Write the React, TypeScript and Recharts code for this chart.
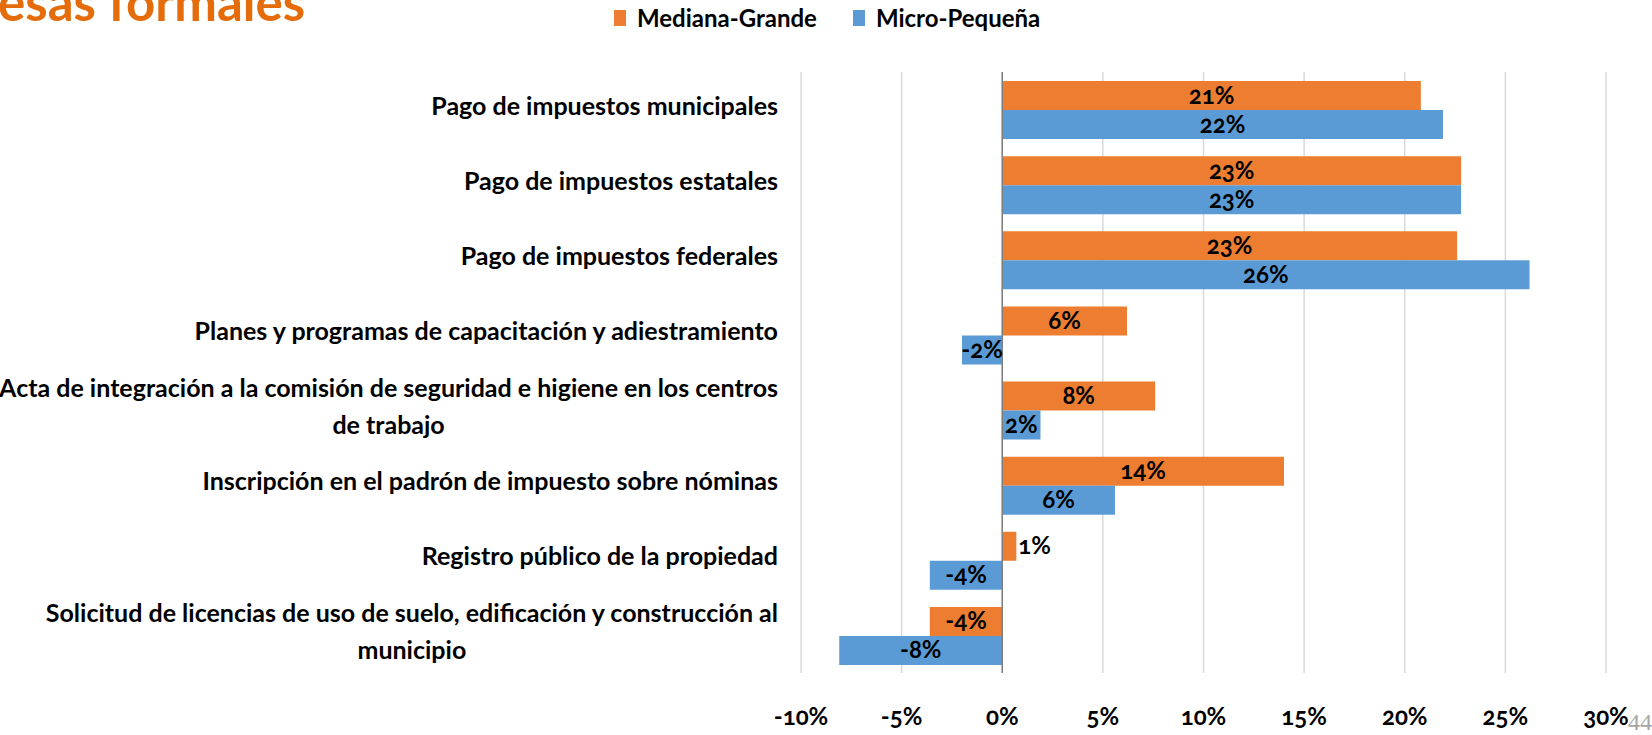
import { useLayoutEffect, useRef, useState } from "react";
import {
  Bar,
  BarChart,
  CartesianGrid,
  LabelList,
  ReferenceLine,
  XAxis,
  YAxis,
} from "recharts";

const categories = [
  "Pago de impuestos municipales",
  "Pago de impuestos estatales",
  "Pago de impuestos federales",
  "Planes y programas de capacitación y adiestramiento",
  "Acta de integración a la comisión de seguridad e higiene en los centros\nde trabajo",
  "Inscripción en el padrón de impuesto sobre nóminas",
  "Registro público de la propiedad",
  "Solicitud de licencias de uso de suelo, edificación y construcción al\nmunicipio",
];

const seriesNames = ["Mediana-Grande", "Micro-Pequeña"];
const seriesColors = ["#ED7D31", "#5B9BD5"];

const medianaGrande = [0.208, 0.228, 0.226, 0.062, 0.076, 0.14, 0.007, -0.036];
const microPequena = [0.219, 0.228, 0.262, -0.02, 0.019, 0.056, -0.036, -0.081];

const xTicks = [-0.1, -0.05, 0, 0.05, 0.1, 0.15, 0.2, 0.25, 0.3];

const title = "esas formales";
const pageNumber = "44";

const FONT = "Lato, 'Open Sans', sans-serif";

const data = categories.map((name, i) => ({
  name,
  medianaGrande: medianaGrande[i],
  microPequena: microPequena[i],
}));

const pct = (v: number) => `${Math.round(v * 100)}%`;

function CategoryTick(props: any) {
  const { x, y, payload } = props;
  const lines = String(payload.value).split("\n");
  const refs = useRef<(SVGTextElement | null)[]>([]);
  const [blockWidth, setBlockWidth] = useState(0);

  useLayoutEffect(() => {
    const widths = refs.current.map((t) => (t ? t.getComputedTextLength() : 0));
    const m = Math.max(0, ...widths);
    if (Math.abs(m - blockWidth) > 0.5) setBlockWidth(m);
  });

  // wrapped labels are centred inside the block, like the office chart does
  const right = x - 23;
  const multi = lines.length > 1 && blockWidth > 0;

  return (
    <g>
      {lines.map((line, i) => (
        <text
          key={i}
          ref={(el) => {
            refs.current[i] = el;
          }}
          x={multi ? right - blockWidth / 2 : right}
          y={y + 5 + (i - (lines.length - 1) / 2) * 37}
          textAnchor={multi ? "middle" : "end"}
          fontFamily={FONT}
          fontWeight={700}
          fontSize={25}
          fill="#000"
        >
          {line}
        </text>
      ))}
    </g>
  );
}

function PercentTick(props: any) {
  const { x, y, payload } = props;
  return (
    <text
      x={x}
      y={y + 52}
      textAnchor="middle"
      fontFamily={FONT}
      fontWeight={700}
      fontSize={24}
      fill="#000"
      style={{ fontVariantNumeric: "oldstyle-nums" }}
    >
      {pct(payload.value)}
    </text>
  );
}

const renderValueLabel = (props: any) => {
  const x = Number(props.x);
  const y = Number(props.y);
  const w = Number(props.width);
  const h = Number(props.height);
  const outside = Math.abs(w) < 30;
  return (
    <text
      x={outside ? x + w + 2 : x + w / 2}
      y={y + h / 2 + 8}
      textAnchor={outside ? "start" : "middle"}
      fontFamily={FONT}
      fontWeight={700}
      fontSize={24}
      fill="#000"
      style={{ fontVariantNumeric: "oldstyle-nums" }}
    >
      {pct(Number(props.value))}
    </text>
  );
};

export default function App() {
  return (
    <div
      style={{
        position: "absolute",
        top: 0,
        left: 0,
        width: 1652,
        height: 735,
        overflow: "hidden",
        background: "#fff",
        fontFamily: FONT,
      }}
    >
      <div
        style={{
          position: "absolute",
          left: -2,
          top: -24,
          fontSize: 51,
          lineHeight: "51px",
          fontWeight: 700,
          color: "#E46C0A",
          whiteSpace: "nowrap",
        }}
      >
        {title}
      </div>

      <div style={{ position: "absolute", left: 614, top: 0, display: "flex" }}>
        {seriesNames.map((name, i) => (
          <div key={name} style={{ display: "flex", marginRight: 36 }}>
            <span
              style={{
                width: 12,
                height: 16,
                marginTop: 10,
                marginRight: 11,
                background: seriesColors[i],
              }}
            />
            <span
              style={{
                marginTop: 6,
                fontSize: 24,
                lineHeight: "24px",
                fontWeight: 700,
                whiteSpace: "nowrap",
              }}
            >
              {name}
            </span>
          </div>
        ))}
      </div>

      <BarChart
        width={1652}
        height={735}
        data={data}
        layout="vertical"
        margin={{ top: 72, right: 46, bottom: 12, left: 0 }}
        barCategoryGap="12%"
        barGap={0}
      >
        <CartesianGrid horizontal={false} stroke="#D9D9D9" strokeWidth={1.5} />
        <XAxis
          type="number"
          domain={[-0.1, 0.3]}
          ticks={xTicks}
          interval={0}
          axisLine={false}
          tickLine={false}
          tickSize={0}
          tickMargin={0}
          height={50}
          tick={<PercentTick />}
        />
        <YAxis
          type="category"
          dataKey="name"
          width={801}
          interval={0}
          axisLine={false}
          tickLine={false}
          tickSize={0}
          tickMargin={0}
          tick={<CategoryTick />}
        />
        <Bar
          dataKey="medianaGrande"
          name={seriesNames[0]}
          fill={seriesColors[0]}
          isAnimationActive={false}
        >
          <LabelList dataKey="medianaGrande" content={renderValueLabel} />
        </Bar>
        <Bar
          dataKey="microPequena"
          name={seriesNames[1]}
          fill={seriesColors[1]}
          isAnimationActive={false}
        >
          <LabelList dataKey="microPequena" content={renderValueLabel} />
        </Bar>
        <ReferenceLine x={0} stroke="#7F7F7F" strokeWidth={1.5} />
      </BarChart>

      <div
        style={{
          position: "absolute",
          left: 1628,
          top: 710,
          fontFamily: "'Liberation Serif', serif",
          fontSize: 24,
          lineHeight: "24px",
          color: "#A6A6A6",
        }}
      >
        {pageNumber}
      </div>
    </div>
  );
}
